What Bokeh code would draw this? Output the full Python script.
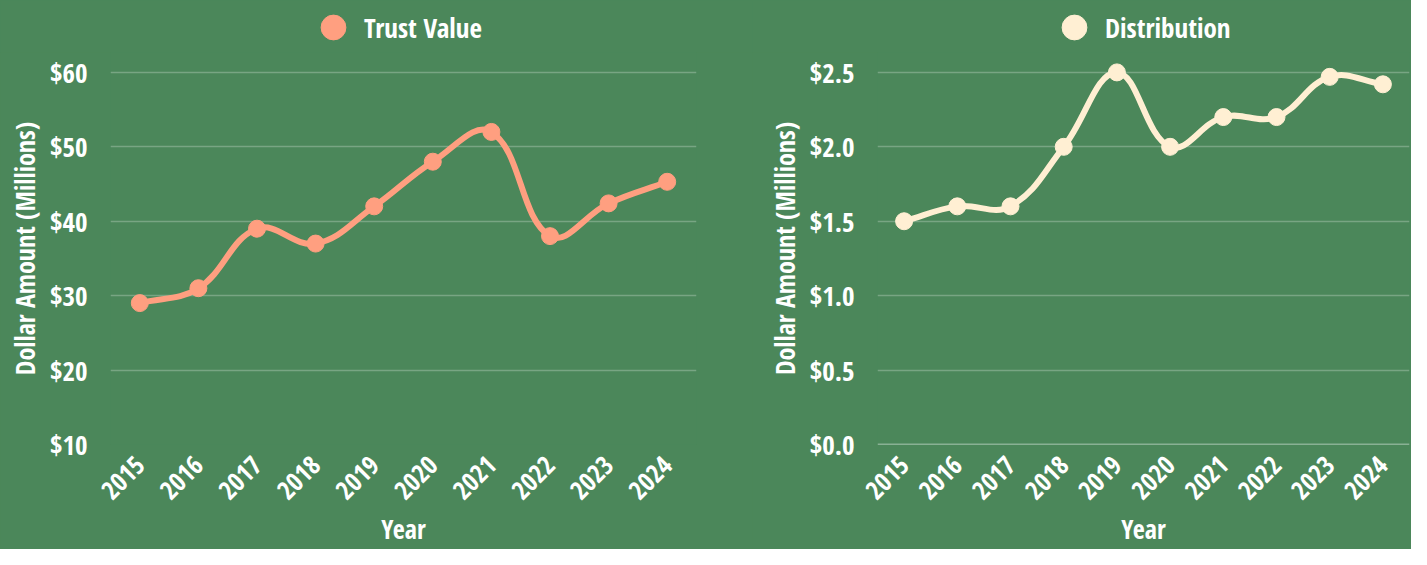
import math
from bokeh.plotting import figure
from bokeh.layouts import row, column
from bokeh.models import (Range1d, FixedTicker, PrintfTickFormatter, Legend, LegendItem, Span)
from bokeh.embed import file_html
from bokeh.resources import INLINE

years = ["2015", "2016", "2017", "2018", "2019", "2020", "2021", "2022", "2023", "2024"]
trust_value = [29, 31, 39, 37, 42, 48, 52, 38, 42.4, 45.3]
distribution = [1.5, 1.6, 1.6, 2.0, 2.5, 2.0, 2.2, 2.2, 2.47, 2.42]
trust_ticks = [10, 20, 30, 40, 50, 60]
dist_ticks = [0.0, 0.5, 1.0, 1.5, 2.0, 2.5]

BG = "#4b875a"
FONT = "Open Sans Condensed"
SALMON = "#ff9f80"
CREAM = "#ffefd3"
TOP_PAD = 20
LEG_H = 52
MAIN_H = 549 - LEG_H
BOTTOM = 103
FRAME_H = MAIN_H - BOTTOM


def spline_segments(xs, ys, sx, sy, t=0.4):
    n = len(xs)
    cprev, cnext = [], []
    for i in range(n):
        a = i - 1 if i > 0 else i
        b = i + 1 if i < n - 1 else i
        d01 = math.hypot((xs[i] - xs[a]) * sx, (ys[i] - ys[a]) * sy)
        d12 = math.hypot((xs[b] - xs[i]) * sx, (ys[b] - ys[i]) * sy)
        tot = d01 + d12
        s01 = d01 / tot if tot else 0
        s12 = d12 / tot if tot else 0
        fa, fb = t * s01, t * s12
        dx, dy = xs[b] - xs[a], ys[b] - ys[a]
        cprev.append((xs[i] - fa * dx, ys[i] - fa * dy))
        cnext.append((xs[i] + fb * dx, ys[i] + fb * dy))
    seg = dict(x0=[], y0=[], x1=[], y1=[], cx0=[], cy0=[], cx1=[], cy1=[])
    for i in range(n - 1):
        seg["x0"].append(xs[i]); seg["y0"].append(ys[i])
        seg["x1"].append(xs[i + 1]); seg["y1"].append(ys[i + 1])
        seg["cx0"].append(cnext[i][0]); seg["cy0"].append(cnext[i][1])
        seg["cx1"].append(cprev[i + 1][0]); seg["cy1"].append(cprev[i + 1][1])
    return seg


def make_chart(values, ticks, fmt, color, width, border_left, border_right,
               frame_w, show_baseline):
    idx = list(range(len(years)))
    ymin, ymax = ticks[0], ticks[-1]
    y_per_px = (ymax - ymin) / float(FRAME_H - TOP_PAD)
    p = figure(width=width, height=MAIN_H, output_backend="svg", toolbar_location=None,
               x_range=Range1d(-0.5, len(years) - 0.5),
               y_range=Range1d(ymin, ymax + TOP_PAD * y_per_px),
               min_border_left=border_left, min_border_right=border_right,
               min_border_top=0, min_border_bottom=BOTTOM)
    p.background_fill_color = BG
    p.border_fill_color = BG
    p.outline_line_color = None

    p.xgrid.grid_line_color = None
    p.ygrid.grid_line_color = "white"
    p.ygrid.grid_line_alpha = 0.25
    p.ygrid.grid_line_width = 1.5
    p.ygrid.ticker = FixedTicker(ticks=ticks)

    p.xaxis.ticker = FixedTicker(ticks=idx)
    p.xaxis.major_label_overrides = {i: y for i, y in enumerate(years)}
    p.xaxis.major_label_orientation = math.pi / 4
    p.yaxis.ticker = FixedTicker(ticks=ticks)
    p.yaxis.formatter = PrintfTickFormatter(format=fmt)
    for ax in (p.xaxis[0], p.yaxis[0]):
        ax.axis_line_color = None
        ax.major_tick_line_color = None
        ax.minor_tick_line_color = None
        ax.major_label_text_color = "white"
        ax.major_label_text_font = FONT
        ax.major_label_text_font_style = "bold"
        ax.axis_label_text_color = "white"
        ax.axis_label_text_font = FONT
        ax.axis_label_text_font_style = "bold"
    p.xaxis.major_label_text_font_size = "26px"
    p.yaxis.major_label_text_font_size = "27px"
    p.xaxis.axis_label = "Year"
    p.yaxis.axis_label = "Dollar Amount (Millions)"
    p.xaxis.axis_label_text_font_size = "26px"
    p.yaxis.axis_label_text_font_size = "26px"
    p.yaxis.major_label_standoff = 17
    p.yaxis.axis_label_standoff = 4
    p.xaxis.major_label_standoff = 10
    p.xaxis.axis_label_standoff = 0

    if show_baseline:
        p.add_layout(Span(location=ymin, dimension="width", line_color="white",
                          line_alpha=0.7, line_width=1.5))

    sx = frame_w / len(years)
    sy = 1.0 / y_per_px
    seg = spline_segments(idx, values, sx, sy)
    p.bezier(source=seg, x0="x0", y0="y0", x1="x1", y1="y1", cx0="cx0", cy0="cy0",
             cx1="cx1", cy1="cy1", line_color=color, line_width=6)
    p.scatter(idx, values, size=17, fill_color=color, line_color=color)
    return p


def make_legend(values, color, label, width, legend_x):
    idx = list(range(len(years)))
    f = figure(width=width, height=LEG_H, output_backend="svg", toolbar_location=None,
               x_range=Range1d(100, 101), y_range=Range1d(100, 101),
               min_border=0, x_axis_type=None, y_axis_type=None)
    f.background_fill_color = BG
    f.border_fill_color = BG
    f.outline_line_color = None
    f.grid.grid_line_color = None
    pts = f.scatter(idx, values, size=17, fill_color=color, line_color=color)
    legend = Legend(items=[LegendItem(label=label, renderers=[pts])],
                    location=(legend_x, LEG_H - 58))
    legend.glyph_width = 62
    legend.glyph_height = 62
    legend.label_standoff = -10
    legend.padding = 0
    legend.margin = 0
    legend.border_line_color = None
    legend.background_fill_alpha = 0
    legend.label_text_color = "white"
    legend.label_text_font = FONT
    legend.label_text_font_style = "bold"
    legend.label_text_font_size = "27px"
    f.add_layout(legend, "center")
    return f


left = make_chart(trust_value, trust_ticks, "$%d", SALMON,
                  width=752, border_left=110, border_right=56, frame_w=586,
                  show_baseline=False)
right = make_chart(distribution, dist_ticks, "$%.1f", CREAM,
                   width=659, border_left=125, border_right=2, frame_w=532,
                   show_baseline=True)
left_leg = make_legend(trust_value, SALMON, "Trust Value", 752, 302)
right_leg = make_legend(distribution, CREAM, "Distribution", 659, 291)

p = column(row(left_leg, right_leg, spacing=0), row(left, right, spacing=0), spacing=0)
p.styles = {"background-color": BG}
open("out.html", "w").write(file_html(p, INLINE))
